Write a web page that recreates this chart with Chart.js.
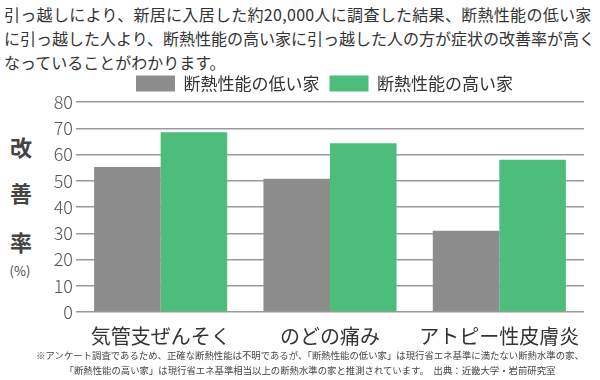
<!DOCTYPE html>
<html lang="ja">
<head>
<meta charset="utf-8">
<script src="https://cdn.jsdelivr.net/npm/chart.js@4/dist/chart.umd.min.js"></script>
<style>
  html, body { margin: 0; padding: 0; background: #fff; overflow: hidden; }
  body { width: 600px; height: 380px; position: relative; font-family: "Noto Sans CJK JP", sans-serif; color: #333; }
  .line { position: absolute; left: 4px; white-space: nowrap; font-size: 16px; line-height: 24px; }
  .note { position: absolute; left: 0; width: 620px; text-align: center; white-space: nowrap; font-size: 9.4px; line-height: 14px; color: #444; }
  .ytitle { position: absolute; width: 40px; text-align: center; color: #444; font-weight: bold; font-size: 22px; line-height: 26px; }
  #chart { position: absolute; left: 40px; top: 65px; }
</style>
</head>
<body>
<div class="line" style="top:2px;letter-spacing:0.3px">引っ越しにより、新居に入居した約20,000人に調査した結果、断熱性能の低い家</div>
<div class="line" style="top:26px">に引っ越した人より、断熱性能の高い家に引っ越した人の方が症状の改善率が高く</div>
<div class="line" style="top:50px">なっていることがわかります。</div>

<div class="ytitle" style="left:1px;top:133px">改</div>
<div class="ytitle" style="left:1px;top:179px">善</div>
<div class="ytitle" style="left:1px;top:228px">率</div>
<div class="ytitle" style="left:0px;top:262px;font-size:13px;line-height:18px;font-weight:normal">(%)</div>

<canvas id="chart" width="576" height="301"></canvas>

<div class="note" style="top:348px">※アンケート調査であるため、正確な断熱性能は不明であるが、「断熱性能の低い家」は現行省エネ基準に満たない断熱水準の家、</div>
<div class="note" style="top:363px">「断熱性能の高い家」は現行省エネ基準相当以上の断熱水準の家と推測されています。　出典：近畿大学・岩前研究室</div>

<script>
// Data
const categories = ["気管支ぜんそく", "のどの痛み", "アトピー性皮膚炎"];
const seriesNames = ["断熱性能の低い家", "断熱性能の高い家"];
const lowInsulation = [55.2, 50.8, 31];
const highInsulation = [68.5, 64.3, 58];
const yMin = 0;
const yMax = 80;
const yStep = 10;

const font = "'Noto Sans CJK JP', sans-serif";

// Nudge the legend a little right, it sits off-centre in the original
const legendShift = {
    id: "legendShift",
    afterLayout(chart) {
        chart.legend.left += 6;
        chart.legend.right += 6;
    },
};

const ctx = document.getElementById("chart").getContext("2d");

const chart = new Chart(ctx, {
    type: "bar",
    data: {
        labels: categories,
        datasets: [
            {
                label: seriesNames[0],
                data: lowInsulation,
                backgroundColor: "#8c8d8c",
            },
            {
                label: seriesNames[1],
                data: highInsulation,
                backgroundColor: "#4cbd7a",
            },
        ],
    },
    options: {
        responsive: false,
        animation: false,
        devicePixelRatio: 1,
        layout: { padding: { left: 13, right: 32, top: 0, bottom: 6 } },
        datasets: {
            bar: { categoryPercentage: 0.786, barPercentage: 1.0 },
        },
        plugins: {
            legend: {
                position: "top",
                labels: {
                    boxWidth: 39,
                    boxHeight: 16,
                    padding: 10,
                    color: "#333",
                    font: { family: font, size: 17 },
                },
            },
            tooltip: { enabled: false },
        },
        scales: {
            x: {
                grid: { display: false, drawTicks: false },
                border: { display: false },
                ticks: {
                    color: "#333",
                    padding: 12,
                    font: { family: font, size: 20 },
                },
            },
            y: {
                min: yMin,
                max: yMax,
                afterFit: (scale) => { scale.width = 23; },
                grid: { color: "#9a9a9a", lineWidth: 1.5, drawTicks: false },
                border: { display: false },
                ticks: {
                    stepSize: yStep,
                    color: "#555",
                    padding: 3,
                    font: { family: font, size: 18, weight: 300 },
                },
            },
        },
    },
    plugins: [legendShift],
});
</script>
</body>
</html>
